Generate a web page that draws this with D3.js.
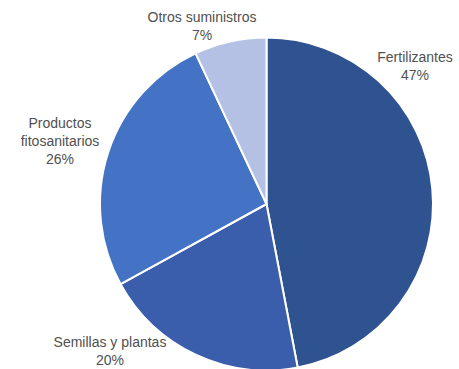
<!DOCTYPE html>
<html><head><meta charset="utf-8">
<script src="https://cdn.jsdelivr.net/npm/d3@7"></script>
<style>body{margin:0;background:#fff}</style>
</head><body>
<svg id="c" width="459" height="369"></svg>
<script>
const categories = ["Fertilizantes", "Semillas y plantas", "Productos fitosanitarios", "Otros suministros"];
const values = [47, 20, 26, 7];
const colors = ["#2F5290", "#3A5EAC", "#4472C4", "#B4C1E4"];
const labelLines = [["Fertilizantes"], ["Semillas y plantas"], ["Productos", "fitosanitarios"], ["Otros suministros"]];
const labelPos = [[415, 62], [110, 347], [60, 128], [202, 22]];

const svg = d3.select("#c");
const cx = 266.5, cy = 204, r = 166.5;
const pie = d3.pie().sort(null).value(d => d)(values);
const arc = d3.arc().innerRadius(0).outerRadius(r);
const g = svg.append("g").attr("transform", `translate(${cx},${cy})`);
g.selectAll("path").data(pie).enter().append("path")
  .attr("d", arc).attr("fill", (d, i) => colors[i])
  .attr("stroke", "#fff").attr("stroke-width", 2).attr("stroke-linejoin", "round");

const lab = svg.append("g").attr("font-family", "'Liberation Sans', Arial, sans-serif")
  .attr("font-size", 14).attr("fill", "#505050").attr("text-anchor", "middle");
categories.forEach((c, i) => {
  const lines = labelLines[i].concat([values[i] + "%"]);
  const t = lab.append("text").attr("x", labelPos[i][0]).attr("y", labelPos[i][1]);
  lines.forEach((l, j) => t.append("tspan").attr("x", labelPos[i][0]).attr("dy", j ? 18 : 0).text(l));
});
</script>
</body></html>
